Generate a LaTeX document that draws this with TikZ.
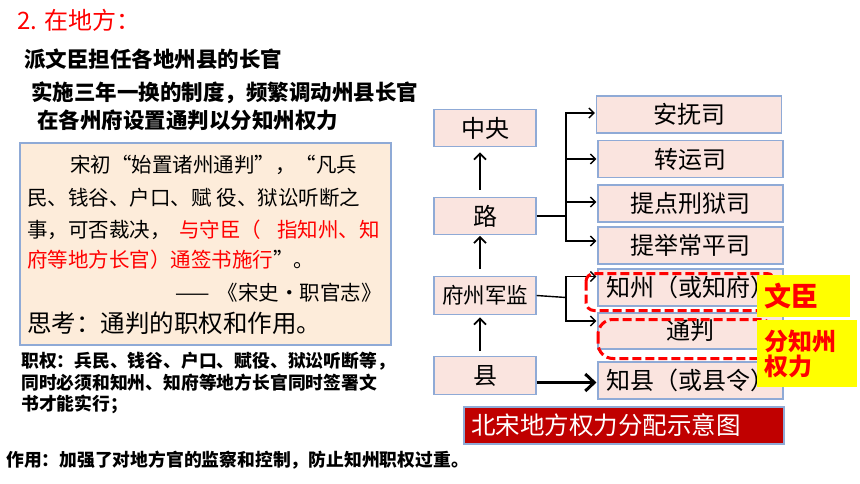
\documentclass[tikz,border=0pt]{standalone}
\usepackage{fontspec}
\setmainfont{Noto Sans CJK SC}
\usetikzlibrary{arrows.meta}
\definecolor{boxfill}{RGB}{250,228,223}
\definecolor{boxborder}{RGB}{143,170,214}
\definecolor{quotefill}{RGB}{253,236,218}
\definecolor{darkred}{RGB}{192,0,0}
\definecolor{hired}{RGB}{255,0,0}
\definecolor{hiyellow}{RGB}{255,255,0}
\newcommand{\fs}[1]{\fontsize{#1pt}{#1pt}\selectfont}
\begin{document}
\begin{tikzpicture}[x=1pt,y=-1pt,
  pbox/.style={draw=boxborder,fill=boxfill,line width=1.1pt,inner sep=0pt,font=\fs{24}},
  lbox/.style={pbox,minimum width=102pt,minimum height=37.5pt},
  rbox/.style={pbox,minimum width=185pt,minimum height=37pt},
  txt/.style={inner sep=0pt,anchor=west},
  arr/.style={line width=1.4pt,-{Straight Barb[length=5pt,width=10pt,line width=1.4pt]}},
  varr/.style={line width=1.8pt,-{Straight Barb[length=6pt,width=12pt,line width=1.8pt]}},
  bigarr/.style={line width=3pt,-{Straight Barb[length=9pt,width=17pt,line width=3pt]}},
  ln/.style={line width=1.4pt},
  reddash/.style={draw=hired,line width=3pt,dash pattern=on 9pt off 4pt},
  ybox/.style={fill=hiyellow,inner sep=0pt,text=hired,font=\bfseries\fs{27},align=left}
]
\useasboundingbox (0,0) rectangle (860,484);
\fill[white] (0,0) rectangle (860,484);

% top texts
\node[txt,text=hired,font=\fs{24}] (title) at (17,20) {2. 在地方：};
\node[txt,font=\bfseries\fs{21.5}] (h1) at (24,59) {派文臣担任各地州县的长官};
\node[txt,font=\bfseries\fs{21.5}] (h2) at (31,93) {实施三年一换的制度，频繁调动州县长官};
\node[txt,font=\bfseries\fs{21.5}] (h3) at (37,120) {在各州府设置通判以分知州权力};

% quote box
\node[draw=boxborder,fill=quotefill,line width=1.1pt,minimum width=371pt,minimum height=202pt,inner sep=0pt] (qbox) at (205.5,244) {};
\node[txt,font=\fs{20.5}] (q1) at (70,165) {宋初“始置诸州通判”，“凡兵};
\node[txt,font=\fs{20.5}] (q2) at (27,198) {民、钱谷、户口、赋\hspace{5pt}役、狱讼听断之};
\node[txt,font=\fs{20.5}] (q3a) at (27,230) {事，可否裁决，};
\node[txt,font=\fs{20.5},text=hired] (q3b) at (179,230) {与守臣（\hspace{16pt}指知州、知};
\node[txt,font=\fs{20.5}] (q4) at (27,260) {\textcolor{hired}{府等地方长官）通签书施行}”。};
\node[inner sep=0pt,anchor=east,font=\fs{20.5}] (q5) at (382,293) {——\hspace{8pt}《宋史·职官志》};
\node[txt,font=\fs{24.5}] (q6) at (27,323) {思考：通判的职权和作用。};

% bottom texts
\node[txt,font=\bfseries\fs{17.8}] (b1) at (21,361.5) {职权：兵民、钱谷、户口、赋役、狱讼听断等，};
\node[txt,font=\bfseries\fs{17.8}] (b2) at (21,383) {同时必须和知州、知府等地方长官同时签署文};
\node[txt,font=\bfseries\fs{17.8}] (b3) at (21,404) {书才能实行；};
\node[txt,font=\bfseries\fs{17.8}] (b4) at (6,460.5) {作用：加强了对地方官的监察和控制，防止知州职权过重。};

% left column boxes
\node[lbox] (zy) at (485,128) {中央};
\node[lbox] (lu) at (485,216) {路};
\node[lbox,font=\fs{21.5}] (fz) at (485,295.5) {府州军监};
\node[lbox] (xian) at (485,375.5) {县};

% right column boxes
\node[rbox] (anfu) at (689,114.5) {安抚司};
\node[rbox] (zhuan) at (690.5,159) {转运司};
\node[rbox] (tidian) at (690.5,203.5) {提点刑狱司};
\node[rbox] (tiju) at (690.5,245.5) {提举常平司};
\node[rbox] (zhizhou) at (690.5,287.5) {知州（或知府）};
\node[rbox,minimum height=36pt] (tongpan) at (690.5,331) {通判};
\node[rbox] (zhixian) at (690.5,380.5) {知县（或县令）};

% vertical arrows
\draw[varr,shorten <=7pt,shorten >=5pt] ([xshift=-5pt]lu.north) -- ([xshift=-5pt]zy.south);
\draw[varr,shorten <=7pt,shorten >=0.5pt] ([xshift=-5pt]fz.north) -- ([xshift=-5pt]lu.south);
\draw[varr,shorten <=5pt,shorten >=2.5pt] ([xshift=-5pt]xian.north) -- ([xshift=-5pt]fz.south);

% bracket from lu
\coordinate (jl) at (566,216);
\draw[ln] (lu.east) -- (jl);
\draw[arr,shorten >=1pt] (jl) |- ([yshift=1.5pt]anfu.west);
\draw[arr,shorten >=1pt] (jl) |- (zhuan.west);
\draw[arr,shorten >=1pt] (jl) |- ([yshift=1.5pt]tidian.west);
\draw[arr,shorten >=1pt] (jl) |- ([yshift=4.5pt]tiju.west);

% bracket from fz
\coordinate (jf) at (566,297.5);
\draw[ln] (fz.east) -- (jf);
\draw[arr,shorten >=1pt] (jf) |- ([yshift=11pt]zhizhou.west);
\draw[arr,shorten >=1pt] (jf) |- ([yshift=10pt]tongpan.west);

% thick arrow from xian
\coordinate (zxin) at ([yshift=-2pt]zhixian.west);
\draw[bigarr,shorten >=1pt] (xian.east |- zxin) -- (zxin);

% red dashed highlights
\draw[reddash,rounded corners=8pt] (586,273.5) rectangle (775,310.5);
\draw[reddash,rounded corners=15pt] (598,319.5) rectangle (775,358.5);

% yellow labels
\node[ybox,minimum width=93pt,minimum height=42pt,text width=79pt,inner xsep=7pt] (wc) at (803.5,296) {文臣};
\node[ybox,font=\bfseries\fs{24},minimum width=100pt,minimum height=67pt,text width=86pt,inner xsep=7pt] (fq) at (807,353.5) {分知州\\[1pt]权力};

% caption
\node[draw=boxborder,fill=darkred,line width=1.1pt,minimum width=320pt,minimum height=37pt,text width=306pt,inner xsep=7pt,inner ysep=0pt,align=left,text=white,font=\fs{24.5}] (cap) at (624,425.5) {北宋地方权力分配示意图};
\end{tikzpicture}
\end{document}
